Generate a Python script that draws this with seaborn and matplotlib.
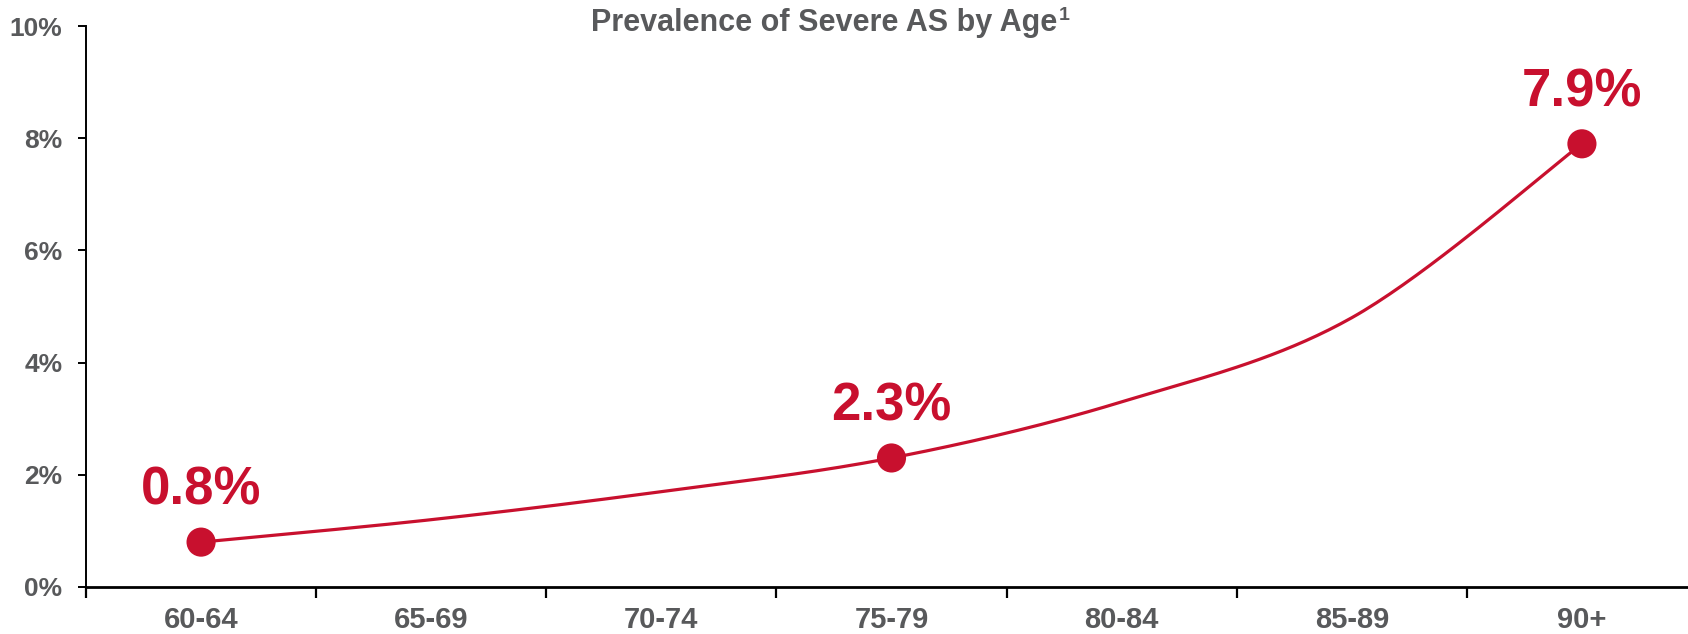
import numpy as np
import pandas as pd
import matplotlib
matplotlib.use("Agg")
import matplotlib.pyplot as plt
import seaborn as sns

# Prevalence of severe aortic stenosis by age group (%)
age_groups = ["60-64", "65-69", "70-74", "75-79", "80-84", "85-89", "90+"]
prevalence = [0.8, 1.2, 1.7, 2.3, 3.3, 4.8, 7.9]
labelled_groups = ["60-64", "75-79", "90+"]
y_ticks = [0, 2, 4, 6, 8, 10]
y_tick_labels = ["0%", "2%", "4%", "6%", "8%", "10%"]
title_text = "Prevalence of Severe AS by Age"
title_note = "1"

RED = "#C8102E"
GREY = "#58595B"

sns.set_theme(style="white")
plt.rcParams["font.family"] = ["Liberation Sans", "DejaVu Sans"]


def smooth_curve(xs, ys, steps=40):
    """Cubic Bezier smoothing through every point (spreadsheet-style)."""
    pts = np.column_stack([xs, ys]).astype(float)
    padded = np.vstack([pts[0], pts, pts[-1]])
    out = []
    for i in range(len(pts) - 1):
        p0, p1, p2, p3 = padded[i], padded[i + 1], padded[i + 2], padded[i + 3]
        c1 = p1 + (p2 - p0) / 6.0
        c2 = p2 - (p3 - p1) / 6.0
        t = np.linspace(0, 1, steps, endpoint=(i == len(pts) - 2))[:, None]
        seg = ((1 - t) ** 3) * p1 + 3 * ((1 - t) ** 2) * t * c1 + 3 * (1 - t) * t ** 2 * c2 + t ** 3 * p2
        out.append(seg)
    return np.vstack(out)


df = pd.DataFrame({"age": age_groups, "pct": prevalence})
df["pos"] = np.arange(len(df))

curve = smooth_curve(df["pos"].values, df["pct"].values)
curve_df = pd.DataFrame({"x": curve[:, 0], "y": curve[:, 1]})

fig = plt.figure(figsize=(16.88, 6.34), dpi=100)
ax = fig.add_axes([86 / 1688, 47 / 634, (1697 - 86) / 1688, (587 - 26) / 634])

sns.lineplot(data=curve_df, x="x", y="y", ax=ax, color=RED, linewidth=2.3,
             sort=False, estimator=None)

marks = df[df["age"].isin(labelled_groups)]
sns.scatterplot(data=marks, x="pos", y="pct", ax=ax, color=RED, s=440,
                edgecolor="none", zorder=5)

for _, row in marks.iterrows():
    ax.annotate(f"{row['pct']:.1f}%", (row["pos"], row["pct"]),
                xytext=(0, 19), textcoords="offset points",
                ha="center", va="bottom", fontsize=38, fontweight="bold",
                color=RED)

ax.set_xlim(-0.5, len(age_groups) - 0.5)
ax.set_ylim(0, 10)

ax.set_xticks(df["pos"])
ax.set_xticklabels(age_groups, fontsize=21, fontweight="bold", color=GREY)
ax.set_xticks(np.arange(-0.5, len(age_groups), 1.0), minor=True)
ax.tick_params(axis="x", which="major", length=0, pad=14)
ax.tick_params(axis="x", which="minor", length=8, width=1.6, direction="out",
               color="black", bottom=True)

ax.set_yticks(y_ticks)
ax.set_yticklabels(y_tick_labels, fontsize=19, fontweight="bold", color=GREY)
ax.tick_params(axis="y", length=6, width=1.4, direction="out", color="black",
               left=True, pad=11)

ax.set_xlabel("")
ax.set_ylabel("")
for side in ["top", "right"]:
    ax.spines[side].set_visible(False)
ax.spines["left"].set_color("black")
ax.spines["left"].set_linewidth(1.4)
ax.spines["bottom"].set_color("black")
ax.spines["bottom"].set_linewidth(2.0)

# Title with a superscript footnote marker placed just after it
title = fig.text(591 / 1688, 1 - 23 / 634, title_text, ha="left", va="center",
                 fontsize=22, fontweight="bold", color=GREY)
ax.annotate(title_note, xy=(1, 1), xycoords=title, xytext=(1, 1),
            textcoords="offset points", ha="left", va="top",
            fontsize=14, fontweight="bold", color=GREY,
            annotation_clip=False)

fig.savefig("out.png", dpi=100)
